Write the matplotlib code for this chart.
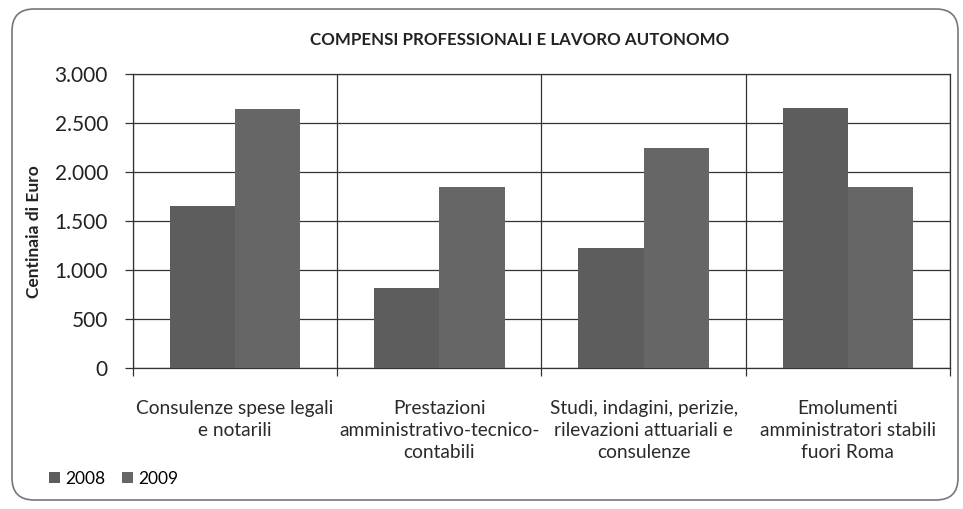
import matplotlib.pyplot as plt
from matplotlib.patches import FancyBboxPatch
from matplotlib.transforms import IdentityTransform
import numpy as np

categories = ['Consulenze spese legali\ne notarili',
              'Prestazioni\namministrativo-tecnico-\ncontabili',
              'Studi, indagini, perizie,\nrilevazioni attuariali e\nconsulenze',
              'Emolumenti\namministratori stabili\nfuori Roma']
vals_2008 = [1655, 815, 1225, 2650]
vals_2009 = [2645, 1850, 2245, 1850]
yticks = [0, 500, 1000, 1500, 2000, 2500, 3000]
ytick_labels = ['0', '500', '1.000', '1.500', '2.000', '2.500', '3.000']

plt.rcParams['font.family'] = ['Lato', 'DejaVu Sans']

fig = plt.figure(figsize=(9.63, 5.09), dpi=100)
ax = fig.add_axes([0.1381, 0.277, 0.8484, 0.5776])

x = np.arange(len(categories))
w = 0.32
ax.bar(x - w / 2, vals_2008, w, color='#5d5d5d', label='2008', zorder=3)
ax.bar(x + w / 2, vals_2009, w, color='#666666', label='2009', zorder=3)

ax.set_xlim(-0.5, 3.5)
ax.set_ylim(0, 3000)
ax.set_yticks(yticks)
ax.set_yticklabels(ytick_labels, fontsize=15, color='#222222')
ax.set_xticks(x)
ax.set_xticklabels(categories, fontsize=13.8, color='#2a2a2a', linespacing=1.35)
ax.tick_params(axis='x', length=0, pad=23)
ax.set_xticks(np.arange(-0.5, 4, 1), minor=True)
ax.tick_params(axis='x', which='minor', length=6, color='#333333', width=0.9)
ax.tick_params(axis='y', length=6, color='#333333', width=0.9, pad=12)

ax.grid(axis='y', color='#333333', linewidth=0.9, zorder=0)
ax.grid(axis='x', which='minor', color='#333333', linewidth=0.9, zorder=0)
for s in ax.spines.values():
    s.set_color('#333333')
    s.set_linewidth(0.9)

fig.text(34 / 963, 1 - 232 / 509, 'Centinaia di Euro', rotation=90,
         ha='center', va='center', fontsize=12.5, fontweight='bold', color='#222222')

fig.text(0.54, 0.921, 'COMPENSI PROFESSIONALI E LAVORO AUTONOMO',
         ha='center', va='center', fontsize=12.2, fontweight='bold', color='#222222')

fig.legend(loc='lower left', bbox_to_anchor=(0.035, 0.013), ncol=2, frameon=False,
           fontsize=12.5, handlelength=0.6, handleheight=0.6, handletextpad=0.3,
           columnspacing=1.0)

# rounded frame around the chart
frame = FancyBboxPatch((12, 9), 946, 491, boxstyle='round,pad=0,rounding_size=22',
                       transform=IdentityTransform(), facecolor='none',
                       edgecolor='#777777', linewidth=1.2)
fig.patches.append(frame)

fig.savefig('out.png', dpi=100)
